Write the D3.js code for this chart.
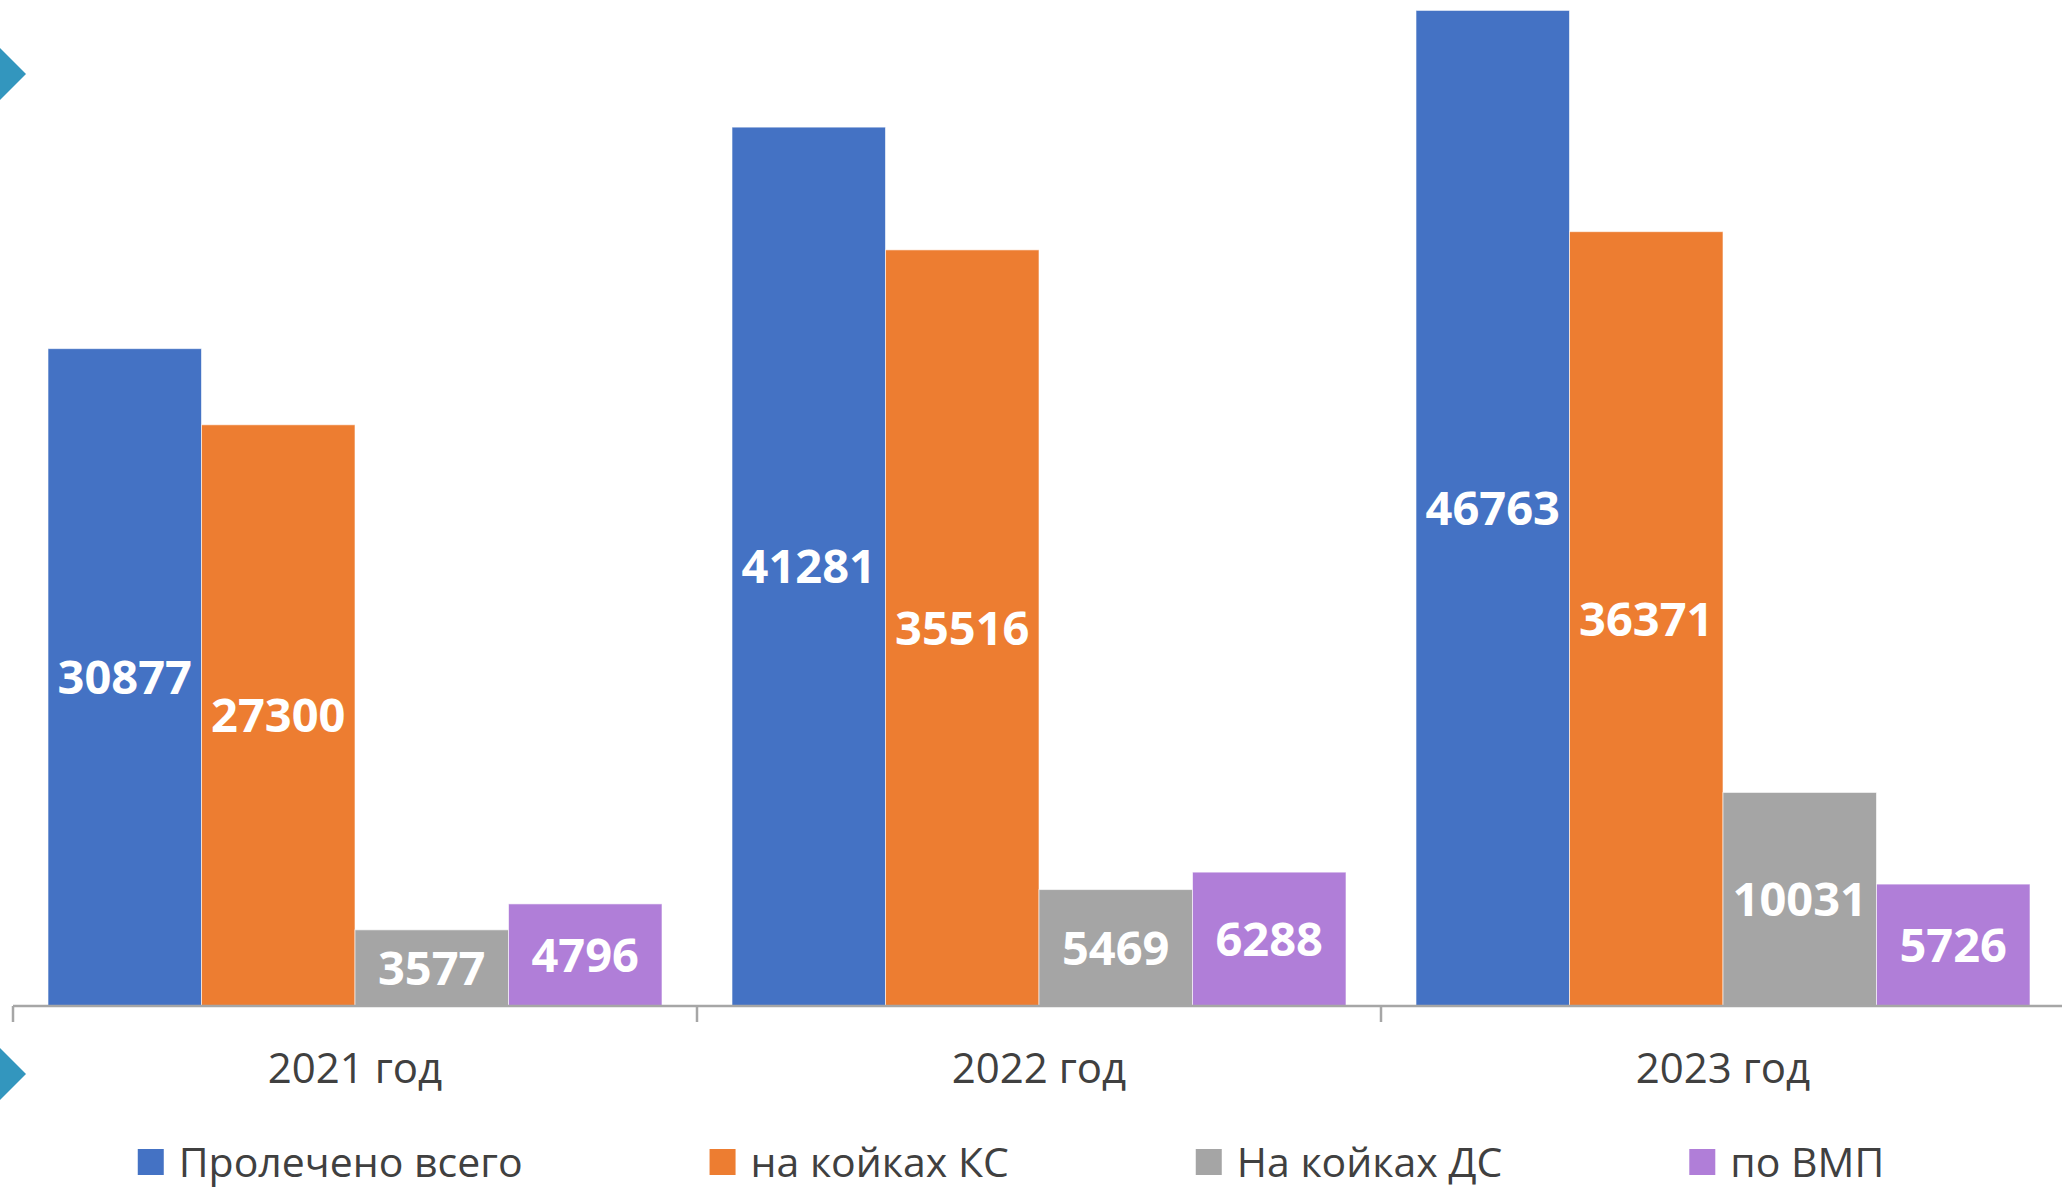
<!DOCTYPE html>
<html lang="ru">
<head>
<meta charset="UTF-8">
<title>Пролечено</title>
<script src="https://cdn.jsdelivr.net/npm/d3@7"></script>
<style>
  body { margin: 0; background: #fff; }
  text { font-family: "Open Sans", "Noto Sans", sans-serif; }
</style>
</head>
<body>
<div id="chart"></div>
<script>
// данные с картинки
const years = ["2021 год", "2022 год", "2023 год"];
const seriesNames = ["Пролечено всего", "на койках КС", "На койках ДС", "по ВМП"];
const totalTreated = [30877, 41281, 46763];
const bedsKS = [27300, 35516, 36371];
const bedsDS = [3577, 5469, 10031];
const byVMP = [4796, 6288, 5726];
const colors = ["#4472C4", "#ED7D31", "#A5A5A5", "#B07ED8"];

const seriesValues = [totalTreated, bedsKS, bedsDS, byVMP];

const width = 2062, height = 1191;
const baseY = 1006, left = 13, right = 2065;

const svg = d3.select("#chart").append("svg")
    .attr("width", width)
    .attr("height", height);

// масштабы
const x0 = d3.scaleBand().domain(years).range([left, right]);
const x1 = d3.scaleBand().domain(seriesNames).range([0, x0.bandwidth()]).paddingOuter(0.228);
const y = d3.scaleLinear().domain([0, 50000]).range([baseY, baseY - 50000 * 0.02129]);

// столбики
const groups = svg.append("g").selectAll("g")
    .data(years)
    .join("g")
    .attr("transform", d => "translate(" + x0(d) + ",0)");

groups.each(function (yr, i) {
    const g = d3.select(this);
    const rows = seriesNames.map((s, k) => ({ s: s, v: seriesValues[k][i], c: colors[k] }));
    g.selectAll("rect")
        .data(rows)
        .join("rect")
        .attr("x", d => x1(d.s))
        .attr("y", d => y(d.v))
        .attr("width", x1.bandwidth())
        .attr("height", d => baseY - y(d.v))
        .attr("fill", d => d.c)
        .attr("stroke", "#fff")
        .attr("stroke-opacity", 0.6)
        .attr("stroke-width", 1);
    g.selectAll("text")
        .data(rows)
        .join("text")
        .attr("x", d => x1(d.s) + x1.bandwidth() / 2)
        .attr("y", d => (y(d.v) + baseY) / 2)
        .attr("dy", "0.36em")
        .attr("text-anchor", "middle")
        .attr("fill", "#fff")
        .attr("font-weight", "bold")
        .attr("font-size", 47)
        .text(d => d.v);
});

// ось X
const xAxis = svg.append("g")
    .attr("transform", "translate(0," + baseY + ")")
    .call(d3.axisBottom(x0).tickSize(0).tickPadding(47));
xAxis.select(".domain").attr("stroke", "#A6A6A6").attr("stroke-width", 2.5)
    .attr("d", "M" + left + ",0H" + right);
xAxis.selectAll("text")
    .attr("font-size", 42)
    .attr("fill", "#404040")
    .style("font-family", "'Open Sans', sans-serif");
// засечки между категориями
svg.append("g").selectAll("line")
    .data(years.concat(["end"]))
    .join("line")
    .attr("x1", (d, i) => i < years.length ? x0(d) : right)
    .attr("x2", (d, i) => i < years.length ? x0(d) : right)
    .attr("y1", baseY)
    .attr("y2", baseY + 16)
    .attr("stroke", "#A6A6A6")
    .attr("stroke-width", 2.5);

// стрелки слева
svg.append("path").attr("d", "M0,48L26,74L0,100Z").attr("fill", "#3396BE");
svg.append("path").attr("d", "M0,1048L26,1074L0,1100Z").attr("fill", "#3396BE");

// легенда
const legend = svg.append("g");
const items = legend.selectAll("g")
    .data(seriesNames)
    .join("g");
items.append("rect")
    .attr("width", 26).attr("height", 26)
    .attr("y", 1149)
    .attr("fill", (d, i) => colors[i]);
items.append("text")
    .attr("x", 41)
    .attr("y", 1162)
    .attr("dy", "0.36em")
    .attr("font-size", 41)
    .attr("fill", "#404040")
    .text(d => d);
let cx = 0;
const widths = [];
items.each(function () {
    const w = 41 + d3.select(this).select("text").node().getComputedTextLength();
    widths.push(w);
});
const gap = 187;
const total = d3.sum(widths) + gap * (widths.length - 1);
cx = 1011 - total / 2;
items.attr("transform", (d, i) => {
    const t = "translate(" + cx + ",0)";
    cx += widths[i] + gap;
    return t;
});
</script>
</body>
</html>
